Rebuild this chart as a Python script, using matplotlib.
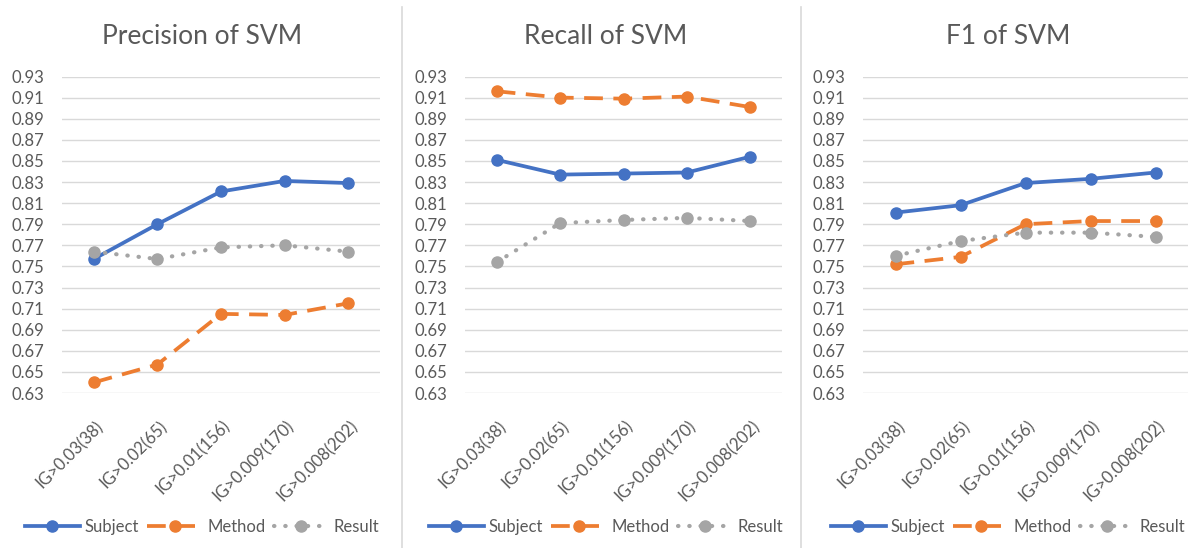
import numpy as np
import matplotlib.pyplot as plt
from matplotlib.lines import Line2D
from matplotlib.transforms import ScaledTranslation

plt.rcParams['font.family'] = ['Lato', 'DejaVu Sans']

categories = ['IG>0.03(38)', 'IG>0.02(65)', 'IG>0.01(156)', 'IG>0.009(170)', 'IG>0.008(202)']
titles = ['Precision of SVM', 'Recall of SVM', 'F1 of SVM']
series_names = ['Subject', 'Method', 'Result']

# values
precision_subject = [0.757, 0.790, 0.821, 0.831, 0.829]
precision_method = [0.640, 0.657, 0.705, 0.704, 0.715]
precision_result = [0.764, 0.757, 0.768, 0.770, 0.764]

recall_subject = [0.851, 0.837, 0.838, 0.839, 0.854]
recall_method = [0.916, 0.910, 0.909, 0.911, 0.901]
recall_result = [0.754, 0.791, 0.794, 0.796, 0.793]

f1_subject = [0.801, 0.808, 0.829, 0.833, 0.839]
f1_method = [0.752, 0.759, 0.790, 0.793, 0.793]
f1_result = [0.760, 0.774, 0.782, 0.782, 0.778]

panels = [
    (precision_subject, precision_method, precision_result),
    (recall_subject, recall_method, recall_result),
    (f1_subject, f1_method, f1_result),
]

colors = ['#4472C4', '#ED7D31', '#A5A5A5']
styles = ['-', (0, (5, 2.8)), (0, (0.1, 2.6))]
widths = [2.7, 2.7, 3.0]
text_col = '#595959'

W, H = 1195, 548
fig = plt.figure(figsize=(W / 100, H / 100), dpi=100)

# axes boxes in pixels: left, right
boxes = [(62, 380), (465, 782), (863, 1188)]
top_px, bot_px = 76.5, 393
centers = [202, 606, 1008]

# nudge rotated category labels a bit right/down like Excel
shift = ScaledTranslation(5 / 72, -2 / 72, fig.dpi_scale_trans)

x = np.arange(len(categories))
for i, (vals, (l, r)) in enumerate(zip(panels, boxes)):
    ax = fig.add_axes([l / W, 1 - bot_px / H, (r - l) / W, (bot_px - top_px) / H])
    for v, c, ls, lw, name in zip(vals, colors, styles, widths, series_names):
        ax.plot(x, v, color=c, lw=lw, linestyle=ls, marker='o', markersize=8,
                dash_capstyle='round' if name == 'Result' else 'butt',
                label=name, clip_on=False, zorder=3)
    ax.set_xlim(-0.5, len(categories) - 0.5)
    ax.set_ylim(0.63, 0.93)
    ticks = np.arange(0.63, 0.931, 0.02)
    ax.set_yticks(ticks)
    ax.set_yticklabels(['%.2f' % t for t in ticks])
    ax.yaxis.grid(True, color='#D9D9D9', lw=1)
    ax.set_axisbelow(True)
    for s in ax.spines.values():
        s.set_visible(False)
    ax.tick_params(axis='both', length=0, labelsize=12, colors=text_col)
    ax.tick_params(axis='y', pad=13)
    ax.set_xticks(x)
    ax.set_xticklabels(categories, rotation=45, ha='right', va='center',
                       rotation_mode='anchor')
    ax.tick_params(axis='x', pad=20)
    for lab in ax.get_xticklabels():
        lab.set_transform(lab.get_transform() + shift)
    fig.text(centers[i] / W, 1 - 36 / H, titles[i], ha='center', va='center',
             fontsize=19, color=text_col)
    ax.legend(loc='center', bbox_to_anchor=(centers[i] / W, 1 - 527 / H),
              bbox_transform=fig.transFigure, ncol=3, frameon=False,
              fontsize=12, labelcolor=text_col, handlelength=3.3,
              handletextpad=0.3, columnspacing=0.5)

# panel separators
for sx in [401.5, 801]:
    fig.add_artist(Line2D([sx / W, sx / W], [0, 1 - 7 / H], color='#D9D9D9', lw=1.2))

fig.savefig('out.png', dpi=100, facecolor='white')
